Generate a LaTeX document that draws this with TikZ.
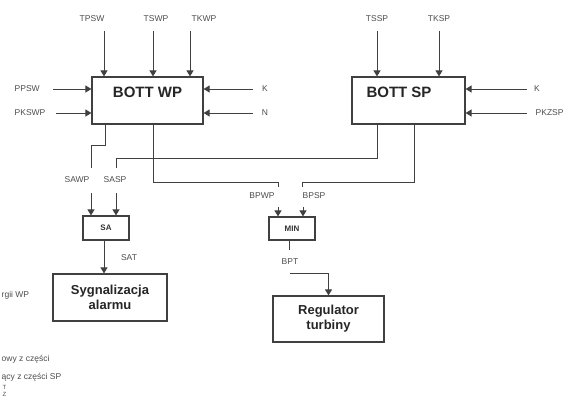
\documentclass[tikz,border=0pt]{standalone}
\usepackage{fontspec}
\setmainfont{Liberation Sans}
\usetikzlibrary{arrows.meta,calc}
\tikzset{
  box/.style={draw=black!75, line width=1.2pt, inner sep=0pt, fill=white},
  lbl/.style={font=\fontsize{8.5}{9}\selectfont, text=black!70, inner sep=0.5pt},
  bigtxt/.style={font=\fontsize{15}{17}\selectfont\bfseries, text=black!85, inner sep=0pt},
  midtxt/.style={font=\fontsize{13}{15}\selectfont\bfseries, text=black!85, align=center},
  smalltxt/.style={font=\fontsize{8}{9}\selectfont\bfseries, text=black!80},
  wire/.style={draw=black!75, line width=1pt},
  arr/.style={wire, -{Triangle[width=7pt,length=6pt]}},
}
\begin{document}
\begin{tikzpicture}[x=1pt,y=-1pt]
\useasboundingbox (0,0) rectangle (568,405);

% main boxes
\node[box, minimum width=111pt, minimum height=47pt] (wp) at (147.5,100.5) {};
\node[bigtxt] (wpt) at (147.5,92) {BOTT WP};
\node[box, minimum width=113pt, minimum height=47pt] (sp) at (408.5,100.5) {};
\node[bigtxt] (spt) at (399,92) {BOTT SP};

% top inputs WP
\node[lbl] (tpsw) at (92,19) {TPSW};
\node[lbl] (tswp) at (156,19) {TSWP};
\node[lbl] (tkwp) at (204,19) {TKWP};
\coordinate (tpswS) at (104,31);
\coordinate (tswpS) at (153,31);
\coordinate (tkwpS) at (190,31);
\draw[arr] (tpswS) -- (tpswS |- wp.north);
\draw[arr] (tswpS) -- (tswpS |- wp.north);
\draw[arr] (tkwpS) -- (tkwpS |- wp.north);

% top inputs SP
\node[lbl] (tssp) at (377,19) {TSSP};
\node[lbl] (tksp) at (439,19) {TKSP};
\coordinate (tsspS) at (377,31);
\coordinate (tkspS) at (439,31);
\draw[arr] (tsspS) -- (tsspS |- sp.north);
\draw[arr] (tkspS) -- (tkspS |- sp.north);

% left inputs WP
\node[lbl, anchor=west] (ppsw) at (14,89) {PPSW};
\node[lbl, anchor=west] (pkswp) at (14,113) {PKSWP};
\coordinate (ppswE) at (53,89);
\coordinate (pkswpE) at (56,113);
\draw[arr] (ppswE) -- (ppswE -| wp.west);
\draw[arr] (pkswpE) -- (pkswpE -| wp.west);

% right inputs WP
\node[lbl] (kw) at (265,89) {K};
\node[lbl] (nw) at (265,113) {N};
\coordinate (kwS) at (253,89);
\coordinate (nwS) at (253,113);
\draw[arr] (kwS) -- (kwS -| wp.east);
\draw[arr] (nwS) -- (nwS -| wp.east);

% right inputs SP
\node[lbl] (ks) at (537,89) {K};
\node[lbl, anchor=west] (pkzsp) at (535,113) {PKZSP};
\coordinate (ksS) at (527,89);
\coordinate (pkzspS) at (527,113);
\draw[arr] (ksS) -- (ksS -| sp.east);
\draw[arr] (pkzspS) -- (pkzspS -| sp.east);

% outputs
\coordinate (w1) at (105,145);
\coordinate (sawpT) at (91,168);
\draw[wire] (w1 |- wp.south) -- (w1) -| (sawpT);
\coordinate (w2) at (153,182);
\coordinate (bpwpT) at (278,187);
\draw[wire] (w2 |- wp.south) -- (w2) -| (bpwpT);
\coordinate (s1) at (377,158);
\coordinate (saspT) at (116,168);
\draw[wire] (s1 |- sp.south) -- (s1) -| (saspT);
\coordinate (s2) at (414,182);
\coordinate (bpspT) at (302,187);
\draw[wire] (s2 |- sp.south) -- (s2) -| (bpspT);

% SA block
\node[lbl] (sawp) at (77,180) {SAWP};
\node[lbl] (sasp) at (115,180) {SASP};
\node[box, minimum width=46pt, minimum height=24pt, smalltxt] (sa) at (106,228) {SA};
\coordinate (sawpB) at (91,193);
\coordinate (saspB) at (116,193);
\draw[arr] (sawpB) -- (sawpB |- sa.north);
\draw[arr] (saspB) -- (saspB |- sa.north);

\node[box, minimum width=114pt, minimum height=47pt, midtxt] (syg) at (110,297.5) {Sygnalizacja\\alarmu};
\coordinate (saO) at (104,240);
\draw[arr] (saO) -- (saO |- syg.north);
\node[lbl] (sat) at (129,258) {SAT};

% MIN block
\node[lbl] (bpwp) at (262,196) {BPWP};
\node[lbl] (bpsp) at (314,196) {BPSP};
\node[box, minimum width=46pt, minimum height=23pt, smalltxt] (min) at (292,228.5) {MIN};
\coordinate (bpwpB) at (278,207);
\coordinate (bpspB) at (303,207);
\draw[arr] (bpwpB) -- (bpwpB |- min.north);
\draw[arr] (bpspB) -- (bpspB |- min.north);
\coordinate (minO) at (289,250);
\draw[wire] (min.south -| minO) -- (minO);
\node[lbl] (bpt) at (290,262) {BPT};

\node[box, minimum width=111pt, minimum height=46pt, midtxt] (reg) at (328.5,319) {Regulator\\turbiny};
\coordinate (bptO) at (290,273);
\draw[arr] (bptO) -| (reg.north);

% legend text fragments at the left edge
\node[lbl, anchor=west] (lg1) at (1,295) {rgii WP};
\node[lbl, anchor=west] (lg2) at (1,359) {owy z części};
\node[lbl, anchor=west] (lg3) at (1,377) {ący z części SP};
\node[lbl, font=\fontsize{6}{6}\selectfont, anchor=west] (lg4) at (2,387) {T};
\node[lbl, font=\fontsize{6}{6}\selectfont, anchor=west] (lg5) at (2,394) {Z};
\end{tikzpicture}
\end{document}
